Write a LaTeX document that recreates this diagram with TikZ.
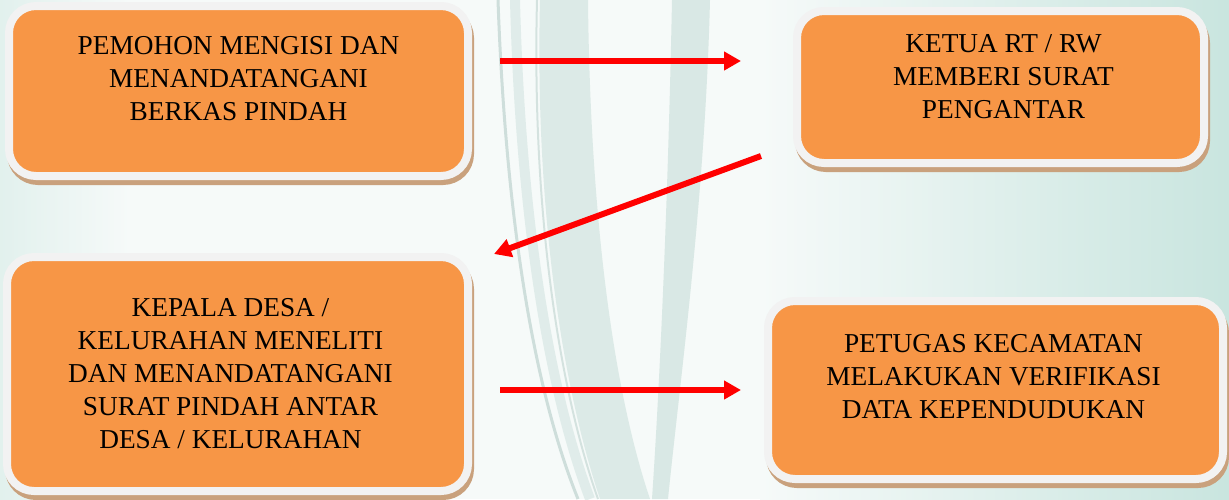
\documentclass[tikz,border=0pt]{standalone}
\usepackage{fontspec}
\setmainfont{Liberation Serif}
\usepackage{tikz}
\usetikzlibrary{arrows.meta}
\usetikzlibrary{shadows}
\usepackage{xcolor}
\definecolor{boxorange}{HTML}{F79646}
\definecolor{boxrim}{HTML}{F2F2F2}
\definecolor{boxshade}{HTML}{C9A17D}
\definecolor{flowred}{HTML}{FF0000}
\definecolor{paper}{HTML}{F6FAF9}
\definecolor{tealwash}{HTML}{C9E5DF}
\definecolor{swirl}{HTML}{D2E4E0}
\definecolor{swirledge}{HTML}{B4CCC7}

\begin{document}
\begin{tikzpicture}[x=1pt,y=-1pt]
\tikzstyle{stepbox}=[draw=boxrim,line width=8pt,fill=boxorange,rounded corners=27pt,
  inner sep=0pt,outer sep=0pt,
  drop shadow={shadow xshift=2pt,shadow yshift=-5pt,fill=boxshade,draw=boxshade,line width=8pt,opacity=1}]
\tikzstyle{steptext}=[align=center,text=black,font=\fontsize{27.3}{33}\selectfont]
\tikzstyle{flow}=[draw=flowred,line width=6pt,-{Triangle[length=17pt,width=18pt]}]
\useasboundingbox (0,0) rectangle (1229,499);
% background
\fill[paper] (0,0) rectangle (1229,499);
\shade[left color=paper,right color=tealwash] (760,0) rectangle (1229,499);
\shade[left color=tealwash!45!paper,right color=paper] (0,0) rectangle (130,499);
\fill[swirl,opacity=.7] (540,0) .. controls (535,200) and (560,380) .. (600,499)
  -- (650,499) .. controls (610,380) and (590,200) .. (588,0) -- cycle;
\fill[swirl,opacity=.8] (672,0) .. controls (668,200) and (660,380) .. (652,499)
  -- (668,499) .. controls (680,380) and (705,200) .. (710,0) -- cycle;
\draw[swirledge,line width=3pt,opacity=.6] (498,0) .. controls (505,200) and (530,380) .. (578,499);
\draw[swirledge,line width=2pt,opacity=.5] (537,0) .. controls (532,200) and (556,380) .. (598,499);
\draw[swirl,line width=10pt,opacity=.6] (515,0) .. controls (520,200) and (545,380) .. (590,499);
% steps
\node[stepbox,minimum width=459pt,minimum height=170pt] (b1) at (238.5,91) {};
\node[stepbox,minimum width=407pt,minimum height=152pt] (b2) at (1000.5,87) {};
\node[stepbox,minimum width=461pt,minimum height=234pt] (b3) at (237.5,374) {};
\node[stepbox,minimum width=455pt,minimum height=178pt] (b4) at (995.5,390) {};
\node[steptext] (t1) at ([yshift=12pt]b1.center) {PEMOHON MENGISI DAN\\MENANDATANGANI\\BERKAS PINDAH};
\node[steptext] (t2) at ([xshift=3pt,yshift=10pt]b2.center) {KETUA RT / RW\\MEMBERI SURAT\\PENGANTAR};
\node[steptext] (t3) at ([xshift=-7pt]b3.center) {KEPALA DESA /\\KELURAHAN MENELITI\\DAN MENANDATANGANI\\SURAT PINDAH ANTAR\\DESA / KELURAHAN};
\node[steptext] (t4) at ([xshift=-2pt,yshift=13pt]b4.center) {PETUGAS KECAMATAN\\MELAKUKAN VERIFIKASI\\DATA KEPENDUDUKAN};
% arrows
\coordinate (a1s) at (500,61);
\coordinate (a1e) at (741,61);
\coordinate (a2s) at (761,156);
\coordinate (a2e) at (494,254);
\coordinate (a3s) at (500,390);
\coordinate (a3e) at (741,390);
\path[flow] (a1s) -- (a1e);
\path[flow] (a2s) -- (a2e);
\path[flow] (a3s) -- (a3e);
\end{tikzpicture}
\end{document}
